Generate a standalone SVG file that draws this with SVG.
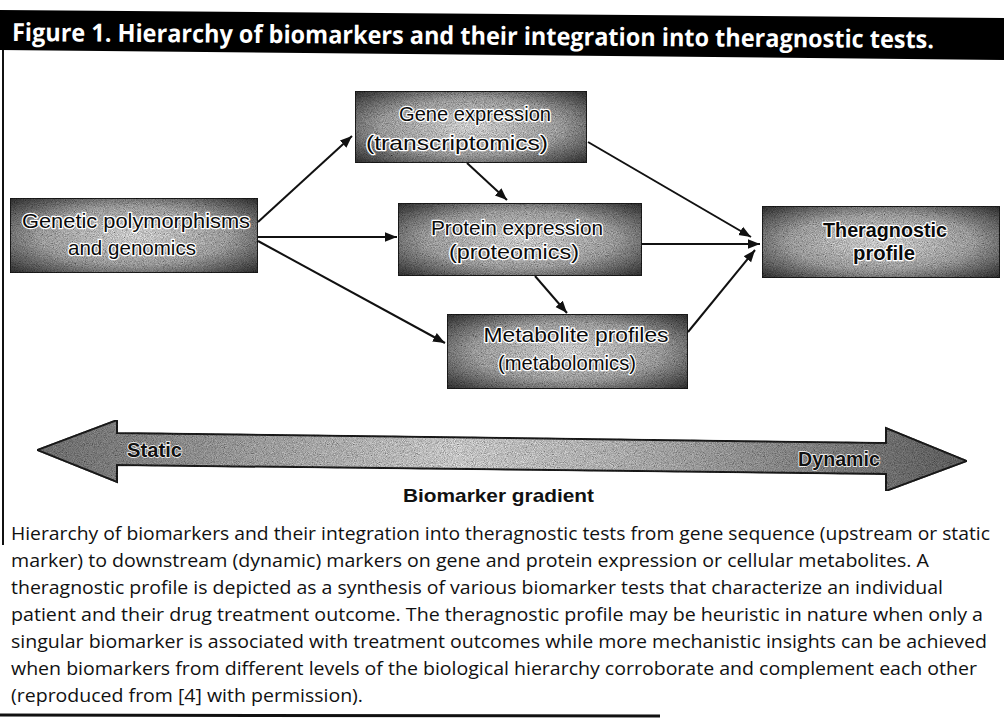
<svg xmlns="http://www.w3.org/2000/svg" width="1004" height="727" viewBox="0 0 1004 727">
<style>
.box{fill:url(#boxg);stroke:#1a1a1a;stroke-width:2;filter:url(#grain)}
.nt{font-family:"Liberation Sans",Arial,sans-serif;font-size:21px;fill:#0a0a0a;stroke:#fff;stroke-width:2.5;paint-order:stroke;stroke-linejoin:round;text-anchor:middle}
.bold{font-weight:bold}
.conn{stroke:#111;stroke-width:2;fill:none;marker-end:url(#ah)}
.cap{font-family:"Open Sans","Noto Sans",sans-serif;font-size:19px;fill:#111}
.lab{font-family:"Liberation Sans",Arial,sans-serif;font-weight:bold;fill:#111}
</style>
<defs>
<radialGradient id="boxg" cx="0.5" cy="0.5" r="0.7">
<stop offset="0" stop-color="#cfcfcf"/>
<stop offset="0.55" stop-color="#9c9c9c"/>
<stop offset="1" stop-color="#2e2e2e"/>
</radialGradient>
<linearGradient id="arrg" x1="0" y1="0" x2="1" y2="0">
<stop offset="0" stop-color="#6e6e6e"/>
<stop offset="0.45" stop-color="#c8c8c8"/>
<stop offset="0.6" stop-color="#b4b4b4"/>
<stop offset="1" stop-color="#5e5e5e"/>
</linearGradient>
<filter id="grain" x="0" y="0" width="1" height="1">
<feTurbulence type="fractalNoise" baseFrequency="1.1" numOctaves="2" seed="4" result="t"/>
<feColorMatrix in="t" type="matrix" values="0.33 0.33 0.33 0 0 0.33 0.33 0.33 0 0 0.33 0.33 0.33 0 0 0 0 0 0 1" result="g"/>
<feComposite in="SourceGraphic" in2="g" operator="arithmetic" k1="2.6" k2="-0.35" k3="0" k4="0" result="m"/>
<feComposite in="m" in2="SourceGraphic" operator="in"/>
</filter>
<marker id="ah" viewBox="0 0 10 10" refX="10" refY="5" markerWidth="6" markerHeight="6" markerUnits="strokeWidth" orient="auto">
<path d="M0,1 L10,5 L0,9 z" fill="#111"/>
</marker>
</defs>
<rect width="1004" height="727" fill="#fff"/>
<g id="title">
<polygon points="0,10 1004,18 1004,60 0,50" fill="#000"/>
<text x="12" y="41" transform="rotate(0.45 12 41)" font-family="'Open Sans','Noto Sans',sans-serif" font-weight="bold" font-size="25" fill="#fff" textLength="922" lengthAdjust="spacingAndGlyphs">Figure 1. Hierarchy of biomarkers and their integration into theragnostic tests.</text>
</g>
<g id="frame">
<line x1="3" y1="50" x2="3" y2="545" stroke="#111" stroke-width="2"/>
<line x1="0" y1="715" x2="660" y2="716" stroke="#111" stroke-width="3"/>
</g>
<g id="connectors">
<line class="conn" x1="258" y1="222" x2="352" y2="136"/>
<line class="conn" x1="258" y1="237" x2="397" y2="237"/>
<line class="conn" x1="258" y1="241" x2="445" y2="343"/>
<line class="conn" x1="467" y1="163" x2="507" y2="200"/>
<line class="conn" x1="535" y1="276" x2="567" y2="313"/>
<line class="conn" x1="588" y1="142" x2="751" y2="237"/>
<line class="conn" x1="642" y1="244" x2="760" y2="244"/>
<line class="conn" x1="688" y1="332" x2="755" y2="250"/>
</g>
<g id="genetic">
<rect class="box" x="10" y="198" width="248" height="75"/>
<text class="nt" x="136" y="228" textLength="228" lengthAdjust="spacingAndGlyphs">Genetic polymorphisms</text>
<text class="nt" x="132" y="255" textLength="128" lengthAdjust="spacingAndGlyphs">and genomics</text>
</g>
<g id="gene">
<rect class="box" x="355" y="91" width="232" height="72"/>
<text class="nt" x="475" y="121" textLength="152" lengthAdjust="spacingAndGlyphs">Gene expression</text>
<text class="nt" x="457" y="150" textLength="182" lengthAdjust="spacingAndGlyphs">(transcriptomics)</text>
</g>
<g id="protein">
<rect class="box" x="398" y="203" width="244" height="73"/>
<text class="nt" x="517" y="235" textLength="172" lengthAdjust="spacingAndGlyphs">Protein expression</text>
<text class="nt" x="514" y="259" textLength="130" lengthAdjust="spacingAndGlyphs">(proteomics)</text>
</g>
<g id="metabolite">
<rect class="box" x="447" y="314" width="241" height="75"/>
<text class="nt" x="576" y="342" textLength="185" lengthAdjust="spacingAndGlyphs">Metabolite profiles</text>
<text class="nt" x="567" y="370" textLength="138" lengthAdjust="spacingAndGlyphs">(metabolomics)</text>
</g>
<g id="theragnostic">
<rect class="box" x="762" y="206" width="238" height="72"/>
<text class="nt bold" x="885" y="237" textLength="124" lengthAdjust="spacingAndGlyphs">Theragnostic</text>
<text class="nt bold" x="884" y="260" textLength="62" lengthAdjust="spacingAndGlyphs">profile</text>
</g>
<g id="gradient">
<polygon points="37,450 117,420 117,433 886,443 886,428 967,461 886,491 886,474 117,465 117,482" fill="url(#arrg)" stroke="#1a1a1a" stroke-width="2" filter="url(#grain)"/>
<text class="lab" x="127" y="457" font-size="20" textLength="55" lengthAdjust="spacingAndGlyphs" stroke="#fff" stroke-width="1.5" paint-order="stroke">Static</text>
<text class="lab" x="798" y="466" font-size="20" textLength="82" lengthAdjust="spacingAndGlyphs" stroke="#fff" stroke-width="1.5" paint-order="stroke">Dynamic</text>
<text class="lab" x="403" y="502" font-size="19" textLength="191" lengthAdjust="spacingAndGlyphs">Biomarker gradient</text>
</g>
<g id="caption">
<text class="cap" x="11" y="540" textLength="979" lengthAdjust="spacingAndGlyphs">Hierarchy of biomarkers and their integration into theragnostic tests from gene sequence (upstream or static</text>
<text class="cap" x="11" y="567" textLength="918" lengthAdjust="spacingAndGlyphs">marker) to downstream (dynamic) markers on gene and protein expression or cellular metabolites. A</text>
<text class="cap" x="11" y="594" textLength="932" lengthAdjust="spacingAndGlyphs">theragnostic profile is depicted as a synthesis of various biomarker tests that characterize an individual</text>
<text class="cap" x="11" y="621" textLength="972" lengthAdjust="spacingAndGlyphs">patient and their drug treatment outcome. The theragnostic profile may be heuristic in nature when only a</text>
<text class="cap" x="11" y="648" textLength="976" lengthAdjust="spacingAndGlyphs">singular biomarker is associated with treatment outcomes while more mechanistic insights can be achieved</text>
<text class="cap" x="11" y="675" textLength="966" lengthAdjust="spacingAndGlyphs">when biomarkers from different levels of the biological hierarchy corroborate and complement each other</text>
<text class="cap" x="11" y="702" textLength="352" lengthAdjust="spacingAndGlyphs">(reproduced from [4] with permission).</text>
</g>
</svg>
